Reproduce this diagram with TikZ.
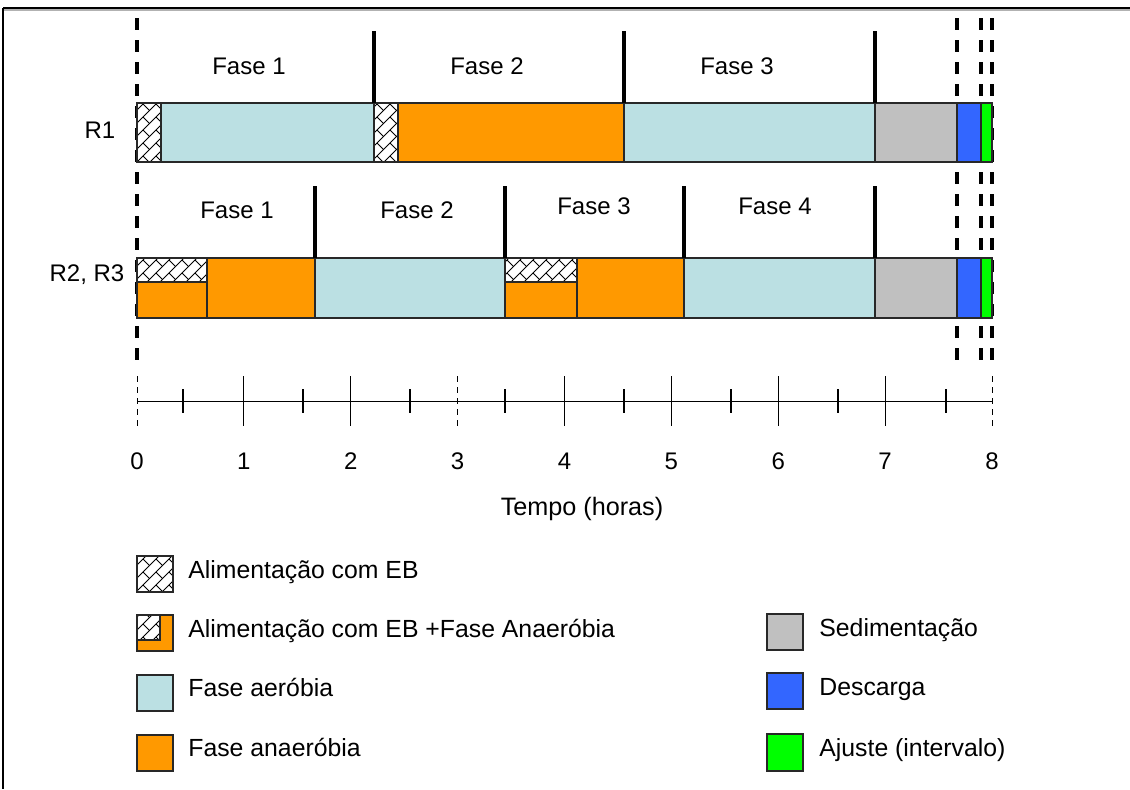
\documentclass[tikz,border=0pt]{standalone}
\usepackage{fontspec}
\setmainfont{Liberation Sans}
\usetikzlibrary{calc}

\definecolor{aer}{RGB}{187,224,227}
\definecolor{anaer}{RGB}{255,153,0}
\definecolor{sed}{RGB}{192,192,192}
\definecolor{desc}{RGB}{51,102,255}
\definecolor{ajus}{RGB}{0,255,0}
\definecolor{edge}{RGB}{40,40,40}

% diagonal brick hatching inside the rectangle (#1,#2)-(#3,#4)
% rows run along x+y=const (spacing 13), joints every 26 along a row
\newcommand{\brickfill}[4]{%
  \begin{scope}
    \clip (#1,#2) rectangle (#3,#4);
    \fill[white] (#1,#2) rectangle (#3,#4);
    \pgfmathtruncatemacro{\kmin}{floor((#1+#2)/13)-1}
    \pgfmathtruncatemacro{\kmax}{ceil((#3+#4)/13)+1}
    \pgfmathtruncatemacro{\jmin}{floor((#1-#4)/26)-1}
    \pgfmathtruncatemacro{\jmax}{ceil((#3-#2)/26)+1}
    \pgfmathsetmacro{\tlo}{#1-#4-26}
    \pgfmathsetmacro{\thi}{#3-#2+26}
    \foreach \kk in {\kmin,...,\kmax}{
      \pgfmathsetmacro{\cc}{\kk*13}
      \draw[hatchline] ({(\cc+\tlo)/2},{(\cc-\tlo)/2}) -- ({(\cc+\thi)/2},{(\cc-\thi)/2});
      \pgfmathtruncatemacro{\oo}{mod(\kk,2)}
      \foreach \jj in {\jmin,...,\jmax}{
        \pgfmathsetmacro{\tt}{(2*\jj+\oo)*13}
        \draw[hatchline] ({(\cc+\tt)/2},{(\cc-\tt)/2}) -- ({(\cc+13+\tt)/2},{(\cc+13-\tt)/2});
      }
    }
  \end{scope}}

\tikzset{
  hatchline/.style={black, line width=0.5pt},
  segbox/.style={draw=edge, line width=0.7pt},
  phasesep/.style={black, line width=1.6pt},
  cutline/.style={black, line width=1.7pt, dash pattern=on 6pt off 5pt},
  axisdash/.style={black, line width=0.5pt, dash pattern=on 3pt off 2.5pt},
  majtick/.style={black, line width=0.6pt},
  mintick/.style={black, line width=0.6pt},
  lbl/.style={inner sep=0pt, font=\fontsize{12}{14}\selectfont},
  legtxt/.style={inner sep=0pt, anchor=base west, font=\fontsize{12.4}{14}\selectfont},
}

\begin{document}
\begin{tikzpicture}[x=0.5pt, y=-0.5pt]
\useasboundingbox (0,0) rectangle (1130,789);

% outer frame
\draw[gray!60, line width=0.8pt] (4,10) -- (1130,10);
\draw[black, line width=1pt] (3,8) -- (1130,8);
\draw[black, line width=1pt] (3,8) -- (3,789);

% cycle boundaries (dashed)
\foreach \xx/\nm in {137/c0, 957/c1, 981/c2, 992/c3}{
  \coordinate (\nm top) at (\xx,18);
  \coordinate (\nm bot) at (\xx,365);
  \draw[cutline] (\nm top) -- (\nm bot);
}

% ---------------- R1 ----------------
\brickfill{137}{103}{161}{162}
\draw[segbox] (137,103) rectangle (161,162);
\draw[segbox, fill=aer] (161,103) rectangle (374,162);
\brickfill{374}{103}{398}{162}
\draw[segbox] (374,103) rectangle (398,162);
\draw[segbox, fill=anaer] (398,103) rectangle (624,162);
\draw[segbox, fill=aer] (624,103) rectangle (875,162);
\draw[segbox, fill=sed] (875,103) rectangle (957,162);
\draw[segbox, fill=desc] (957,103) rectangle (981,162);
\draw[segbox, fill=ajus] (981,103) rectangle (992,162);

\foreach \xx/\nm in {374/a1, 624/a2, 875/a3}{
  \coordinate (\nm) at (\xx,31);
  \coordinate (\nm b) at (\xx,103);
  \draw[phasesep] (\nm) -- (\nm b);
}

% ---------------- R2, R3 ----------------
\brickfill{137}{258}{207}{282}
\draw[segbox] (137,258) rectangle (207,282);
\draw[segbox, fill=anaer] (137,282) rectangle (207,318);
\draw[segbox, fill=anaer] (207,258) rectangle (315,318);
\draw[segbox, fill=aer] (315,258) rectangle (505,318);
\brickfill{505}{258}{577}{282}
\draw[segbox] (505,258) rectangle (577,282);
\draw[segbox, fill=anaer] (505,282) rectangle (577,318);
\draw[segbox, fill=anaer] (577,258) rectangle (684,318);
\draw[segbox, fill=aer] (684,258) rectangle (875,318);
\draw[segbox, fill=sed] (875,258) rectangle (957,318);
\draw[segbox, fill=desc] (957,258) rectangle (981,318);
\draw[segbox, fill=ajus] (981,258) rectangle (992,318);

\foreach \xx/\nm in {315/b1, 505/b2, 684/b3, 875/b4}{
  \coordinate (\nm) at (\xx,186);
  \coordinate (\nm b) at (\xx,258);
  \draw[phasesep] (\nm) -- (\nm b);
}

% row labels and phase titles
\node[lbl, anchor=base] (r1) at (100,138) {R1};
\node[lbl, anchor=base] (r23) at (87,281) {R2, R3};
\node[lbl, anchor=base] (p11) at (249,74) {Fase 1};
\node[lbl, anchor=base] (p12) at (487,74) {Fase 2};
\node[lbl, anchor=base] (p13) at (737,74) {Fase 3};
\node[lbl, anchor=base] (p21) at (237,218) {Fase 1};
\node[lbl, anchor=base] (p22) at (417,218) {Fase 2};
\node[lbl, anchor=base] (p23) at (594,214) {Fase 3};
\node[lbl, anchor=base] (p24) at (775,214) {Fase 4};

% ---------------- time axis ----------------
\coordinate (ax0) at (137,401.5);
\coordinate (ax8) at (992,401.5);
\draw[black, line width=0.5pt] (ax0) -- (ax8);
\draw[black, line width=0.9pt] (137,401.5) -- (447,401.5);
\draw[black, line width=0.9pt] (760,401.5) -- (992,401.5);
\foreach \i in {0,...,8}{
  \pgfmathsetmacro{\xx}{137+106.875*\i}
  \coordinate (t\i a) at (\xx,376);
  \coordinate (t\i b) at (\xx,426);
  \node[lbl, anchor=base] (n\i) at (\xx,469) {\i};
}
\foreach \i in {1,2,4,5,6,7}{ \draw[majtick] (t\i a) -- (t\i b); }
\foreach \i in {0,3,8}{ \draw[axisdash] (t\i a) -- (t\i b); }
\foreach \xx in {183,303,410,505,624,731,838,946}{
  \draw[mintick] (\xx,389) -- (\xx,413);
}
\node[lbl, anchor=base, font=\fontsize{12.6}{14}\selectfont] (tempo) at (582,515) {Tempo (horas)};

% ---------------- legend ----------------
\brickfill{137}{556}{173}{592}
\draw[segbox] (137,556) rectangle (173,592);
\node[legtxt] (l1) at (188,578) {Alimentação com EB};

\fill[anaer] (137,615) rectangle (173,651);
\brickfill{137}{615}{160}{640}
\draw[segbox] (137,640) -- (160,640) -- (160,615);
\draw[segbox] (137,615) rectangle (173,651);
\node[legtxt] (l2) at (188,637) {Alimentação com EB +Fase Anaeróbia};

\draw[segbox, fill=aer] (137,675) rectangle (173,711);
\node[legtxt] (l3) at (188,696) {Fase aeróbia};

\draw[segbox, fill=anaer] (137,735) rectangle (173,771);
\node[legtxt] (l4) at (188,756) {Fase anaeróbia};

\draw[segbox, fill=sed] (767,614) rectangle (803,650);
\node[legtxt] (l5) at (819,636) {Sedimentação};

\draw[segbox, fill=desc] (767,673) rectangle (803,709);
\node[legtxt] (l6) at (819,695) {Descarga};

\draw[segbox, fill=ajus] (767,734) rectangle (803,771);
\node[legtxt] (l7) at (819,756) {Ajuste (intervalo)};

\end{tikzpicture}
\end{document}
